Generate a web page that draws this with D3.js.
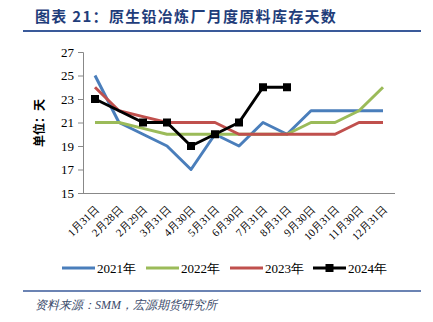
<!DOCTYPE html>
<html><head><meta charset="utf-8">
<script src="https://cdn.jsdelivr.net/npm/d3@7"></script>
<style>body{margin:0;background:#fff}svg{display:block}</style>
</head><body>
<script>
const categories = ["1月31日","2月28日","2月29日","3月31日","4月30日","5月31日","6月30日","7月31日","8月31日","9月30日","10月31日","11月30日","12月31日"];
const s2021 = [25,21,20,19,17,20,19,21,20,22,22,22,22];
const s2022 = [21,21,20.5,20,20,20,20,20,20,21,21,22,24];
const s2023 = [24,22,21.5,21,21,21,20,20,20,20,20,21,21];
const s2024 = [23,null,21,21,19,20,21,24,24,null,null,null,null];
const seriesNames = ["2021年","2022年","2023年","2024年"];
const seriesColors = ["#4A7EBB","#9BBB59","#C0504D","#000000"];
const yTicks = [15,17,19,21,23,25,27];

const W=433,H=322;
const svg=d3.select("body").append("svg").attr("width",W).attr("height",H);
const serif="'Liberation Serif','Times New Roman',serif";
const cjk="'Noto Sans CJK SC',sans-serif";

// title
svg.append("text").attr("x",35).attr("y",22).attr("font-family",cjk).attr("font-weight","bold")
  .attr("font-size",15).attr("letter-spacing",1.3).attr("fill","#1F3D7A").text("图表 21：原生铅冶炼厂月度原料库存天数");
svg.append("line").attr("x1",23).attr("x2",421).attr("y1",31).attr("y2",31).attr("stroke","#3A5A9A").attr("stroke-width",2);

const x=d3.scalePoint().domain(categories).range([95,383]);
const y=d3.scaleLinear().domain([15,27]).range([193,52]);

// y axis
const ya=svg.append("g").attr("transform","translate(83,0)")
  .call(d3.axisLeft(y).tickValues(yTicks).tickSize(5).tickPadding(4));
ya.selectAll("path,line").attr("stroke","#888");
ya.selectAll("text").attr("font-family",serif).attr("font-size",13).attr("fill","#000");
// x axis
const xa=svg.append("g").attr("transform","translate(0,193)")
  .call(d3.axisBottom(x).tickSize(0).tickPadding(0));
xa.select("path").attr("d","M83,0.5H395").attr("stroke","#888");
xa.selectAll("text").attr("font-family",serif).attr("font-size",11).attr("fill","#000")
  .attr("text-anchor","end").attr("dy",0)
  .attr("transform","translate(4,17) rotate(-45)");

// y label
svg.append("text").attr("transform","translate(44,123) rotate(-90)").attr("text-anchor","middle")
  .attr("font-family",cjk).attr("font-weight","bold").attr("font-size",12).text("单位：天");

const data=[s2021,s2022,s2023,s2024];
const line=d3.line().defined(d=>d.v!=null).x(d=>x(d.c)).y(d=>y(d.v));
data.forEach((s,i)=>{
  let pts=s.map((v,j)=>({c:categories[j],v}));
  if(i===3){ pts=pts.filter(d=>d.v!=null); }
  svg.append("path").datum(pts).attr("d",line).attr("fill","none")
    .attr("stroke",seriesColors[i]).attr("stroke-width",3).attr("stroke-linejoin","round");
});
svg.selectAll("rect.mk").data(s2024.map((v,j)=>({c:categories[j],v})).filter(d=>d.v!=null))
  .enter().append("rect").attr("class","mk").attr("x",d=>x(d.c)-4).attr("y",d=>y(d.v)-4)
  .attr("width",8).attr("height",8).attr("fill","#000");

// legend
const lx=[62,146,230,313];
seriesNames.forEach((n,i)=>{
  const g=svg.append("g").attr("transform",`translate(${lx[i]},268)`);
  g.append("line").attr("x1",0).attr("x2",33).attr("stroke",seriesColors[i]).attr("stroke-width",3);
  if(i===3) g.append("rect").attr("x",12.5).attr("y",-4).attr("width",8).attr("height",8).attr("fill","#000");
  g.append("text").attr("x",35).attr("y",5).attr("font-family",serif).attr("font-size",13).text(n);
});

svg.append("line").attr("x1",23).attr("x2",421).attr("y1",291).attr("y2",291).attr("stroke","#3A5A9A").attr("stroke-width",1.5);
svg.append("text").attr("x",35).attr("y",309).attr("font-family",serif).attr("font-style","italic")
  .attr("font-size",12).attr("fill","#3A4A6A").text("资料来源：SMM，宏源期货研究所");
</script>
</body></html>
